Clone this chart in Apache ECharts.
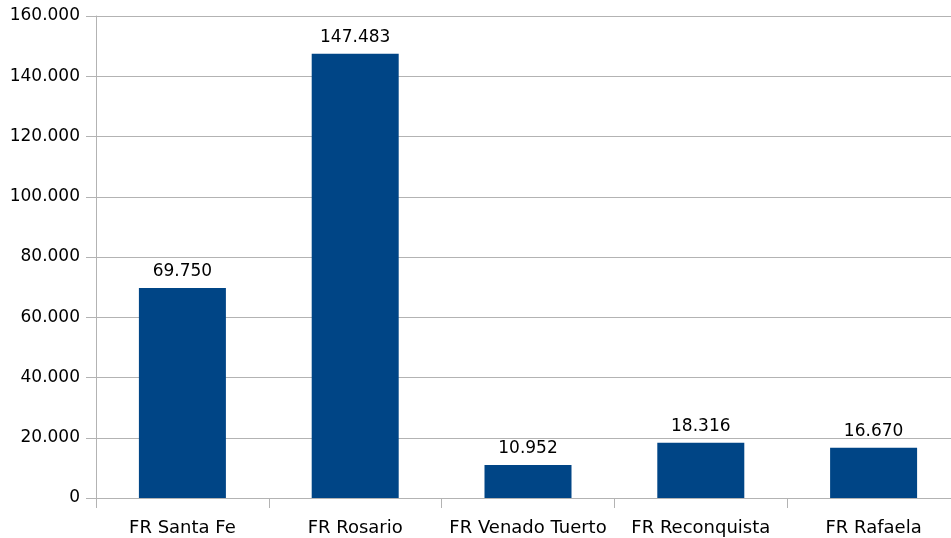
<!DOCTYPE html>
<html>
<head>
<meta charset="utf-8">
<script src="https://cdn.jsdelivr.net/npm/echarts@6/dist/echarts.min.js"></script>
<style>html,body{margin:0;padding:0;background:#fff;overflow:hidden;width:951px;height:538px;}#c{width:960px;height:538px;}</style>
</head>
<body>
<div id="c"></div>
<script>
const categories = ["FR Santa Fe", "FR Rosario", "FR Venado Tuerto", "FR Reconquista", "FR Rafaela"];
const values = [69750, 147483, 10952, 18316, 16670];
const yMin = 0, yMax = 160000, yInterval = 20000;

function fmt(v) {
  return String(Math.round(v)).replace(/\B(?=(\d{3})+(?!\d))/g, ".");
}

const chart = echarts.init(document.getElementById('c'), null, {renderer: 'canvas'});
const font = "DejaVu Sans";
chart.setOption({
  animation: false,
  backgroundColor: '#ffffff',
  grid: {left: 96, right: 0, top: 16, bottom: 40, containLabel: false},
  xAxis: {
    type: 'category',
    data: categories,
    axisLine: {lineStyle: {color: '#b3b3b3', width: 1}},
    axisTick: {show: true, length: 10, lineStyle: {color: '#b3b3b3'}},
    axisLabel: {color: '#000', fontFamily: font, fontSize: 18, margin: 21, interval: 0}
  },
  yAxis: {
    type: 'value',
    min: yMin, max: yMax, interval: yInterval,
    axisLine: {show: true, lineStyle: {color: '#b3b3b3', width: 1}},
    axisTick: {show: true, length: 10, lineStyle: {color: '#b3b3b3'}},
    splitLine: {lineStyle: {color: '#b3b3b3', width: 1}},
    axisLabel: {color: '#000', fontFamily: font, fontSize: 17, margin: 16, padding: [4, 0, 0, 0], formatter: fmt}
  },
  series: [{
    type: 'bar',
    data: values,
    barWidth: 87,
    itemStyle: {color: '#004586'},
    label: {show: true, position: 'top', distance: 8, color: '#000', fontFamily: font, fontSize: 17,
      formatter: p => fmt(p.value)}
  }]
});
</script>
</body>
</html>
